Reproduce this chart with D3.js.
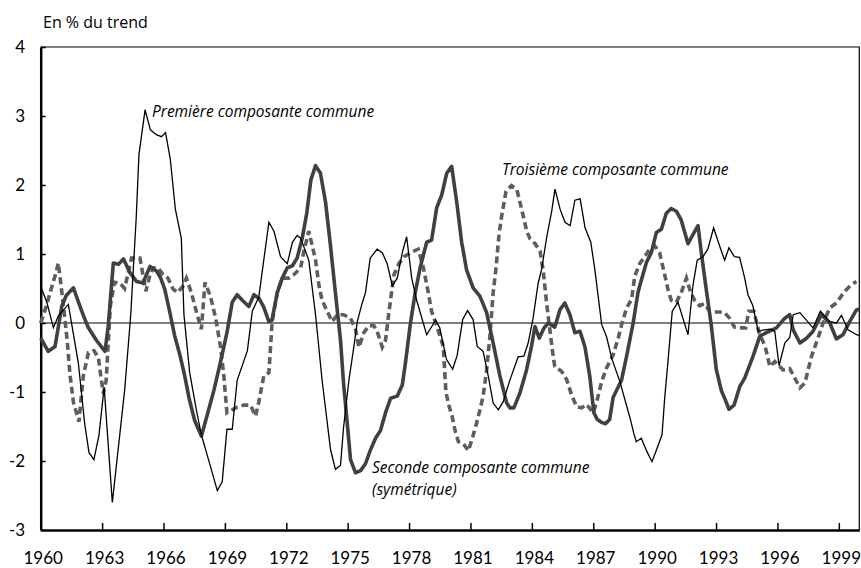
<!DOCTYPE html>
<html><head><meta charset="utf-8">
<script src="https://cdn.jsdelivr.net/npm/d3@7"></script>
<style>body{margin:0;background:#fff}svg{display:block}text{fill:#000}</style>
</head><body><svg id="c" width="861" height="568"></svg>
<script>
// Première composante commune (thin black)
const premiereT = [1960.0,1960.3,1960.62,1960.86,1961.35,1961.84,1962.15,1962.36,1962.6,1962.85,1963.1,1963.5,1964.1,1964.4,1964.67,1964.8,1965.1,1965.36,1965.65,1965.9,1966.1,1966.33,1966.58,1966.87,1967.0,1967.28,1967.6,1967.85,1968.2,1968.63,1968.87,1969.1,1969.36,1969.6,1970.1,1970.34,1970.66,1970.9,1971.15,1971.4,1971.72,1972.05,1972.3,1972.53,1972.7,1973.1,1973.43,1973.75,1974.16,1974.4,1974.65,1974.8,1975.06,1975.3,1975.47,1975.7,1975.87,1976.1,1976.44,1976.69,1976.93,1977.18,1977.42,1977.67,1977.88,1978.13,1978.37,1978.86,1979.3,1979.5,1979.83,1980.13,1980.35,1980.62,1980.86,1981.13,1981.33,1981.62,1981.87,1982.11,1982.36,1982.6,1982.9,1983.33,1983.61,1983.82,1984.06,1984.31,1984.47,1984.73,1984.97,1985.13,1985.38,1985.62,1985.87,1986.1,1986.36,1986.6,1986.88,1987.08,1987.41,1987.65,1987.9,1988.3,1988.8,1988.98,1989.1,1989.35,1989.6,1989.87,1990.1,1990.36,1990.49,1990.65,1990.86,1991.14,1991.38,1991.63,1991.87,1992.08,1992.36,1992.6,1992.88,1993.17,1993.42,1993.63,1993.9,1994.15,1994.4,1994.56,1994.8,1995.06,1995.35,1995.63,1995.87,1996.08,1996.36,1996.6,1996.77,1997.1,1997.74,1998.1,1998.56,1998.88,1999.13,1999.45,1999.86,2000.0];
const premiereV = [0.53,0.3,-0.07,0.1,0.27,-0.58,-1.46,-1.88,-1.98,-1.62,-0.93,-2.6,-0.98,0.12,1.54,2.44,3.09,2.8,2.73,2.7,2.76,2.38,1.65,1.23,0.12,-0.72,-1.25,-1.62,-1.98,-2.43,-2.3,-1.54,-1.54,-0.83,-0.4,0.17,0.38,0.91,1.46,1.33,0.96,0.86,1.17,1.27,1.23,0.91,0.12,-0.83,-1.83,-2.12,-2.06,-1.51,-0.83,-0.35,0.02,0.28,0.44,0.94,1.07,1.02,0.86,0.54,0.65,1.02,1.25,0.65,0.33,-0.17,0.04,-0.07,-0.53,-0.67,-0.47,0.05,0.18,0.05,-0.34,-0.41,-0.77,-1.16,-1.26,-1.14,-0.85,-0.49,-0.48,-0.29,0.07,0.58,0.77,1.25,1.62,1.94,1.65,1.46,1.41,1.78,1.8,1.38,1.17,0.77,-0.02,-0.2,-0.51,-0.85,-1.38,-1.6,-1.72,-1.67,-1.85,-2.01,-1.83,-1.62,-1.09,-0.56,0.17,0.3,0.07,-0.17,0.54,0.91,0.96,1.07,1.38,1.12,0.91,1.09,0.96,0.95,0.65,0.41,0.25,-0.12,-0.1,-0.09,-0.12,-0.62,-0.29,-0.21,0.12,0.15,-0.07,0.17,0.02,0.0,0.11,-0.1,-0.17,-0.18];

// Seconde composante commune (symétrique) (thick dark)
const secondeT = [1960.0,1960.37,1960.7,1961.03,1961.25,1961.6,1961.85,1962.07,1962.33,1962.72,1963.14,1963.3,1963.42,1963.55,1963.8,1964.04,1964.36,1964.69,1965.0,1965.34,1965.67,1965.85,1966.06,1966.3,1966.55,1966.8,1967.04,1967.25,1967.52,1967.85,1968.14,1968.46,1968.79,1969.1,1969.36,1969.6,1969.85,1970.17,1970.42,1970.66,1970.9,1971.15,1971.3,1971.56,1971.8,1972.05,1972.3,1972.53,1972.78,1973.0,1973.2,1973.43,1973.67,1973.92,1974.16,1974.4,1974.65,1974.8,1974.98,1975.14,1975.38,1975.63,1975.87,1976.1,1976.36,1976.6,1976.85,1977.1,1977.42,1977.67,1977.83,1978.05,1978.3,1978.54,1978.86,1979.1,1979.35,1979.6,1979.84,1980.08,1980.33,1980.57,1980.81,1981.13,1981.46,1981.79,1982.11,1982.44,1982.77,1982.93,1983.12,1983.41,1983.74,1983.98,1984.15,1984.36,1984.6,1984.8,1985.12,1985.37,1985.61,1985.86,1986.1,1986.35,1986.59,1986.83,1987.03,1987.2,1987.4,1987.6,1987.8,1987.97,1988.38,1988.63,1988.95,1989.19,1989.36,1989.6,1989.84,1990.08,1990.33,1990.57,1990.81,1991.06,1991.3,1991.63,1991.87,1992.12,1992.28,1992.52,1992.77,1993.01,1993.26,1993.42,1993.63,1993.88,1994.16,1994.4,1994.81,1995.14,1995.46,1995.95,1996.36,1996.6,1996.77,1997.1,1997.42,1997.74,1998.15,1998.56,1998.88,1999.2,1999.53,1999.86,2000.0];
const secondeV = [-0.22,-0.41,-0.34,0.24,0.4,0.51,0.3,0.12,-0.07,-0.25,-0.41,-0.05,0.4,0.87,0.85,0.93,0.73,0.6,0.58,0.82,0.75,0.66,0.49,0.17,-0.19,-0.46,-0.77,-1.09,-1.41,-1.64,-1.33,-0.98,-0.56,-0.14,0.3,0.41,0.33,0.24,0.41,0.36,0.23,0.02,0.04,0.44,0.65,0.8,0.83,0.94,1.23,1.59,2.07,2.28,2.17,1.75,1.12,0.44,-0.25,-0.88,-1.46,-1.98,-2.17,-2.14,-2.04,-1.85,-1.67,-1.56,-1.3,-1.09,-1.06,-0.9,-0.56,-0.04,0.44,0.8,1.17,1.2,1.67,1.86,2.17,2.27,1.75,1.17,0.77,0.51,0.39,0.15,-0.29,-0.77,-1.16,-1.23,-1.23,-1.02,-0.68,-0.34,-0.05,-0.22,-0.07,0.0,-0.06,0.19,0.29,0.12,-0.14,-0.12,-0.34,-0.77,-1.3,-1.4,-1.44,-1.46,-1.4,-1.08,-0.83,-0.48,0.0,0.45,0.63,0.88,1.02,1.31,1.36,1.59,1.66,1.62,1.49,1.15,1.28,1.41,1.02,0.49,-0.04,-0.67,-0.98,-1.09,-1.25,-1.19,-0.92,-0.8,-0.48,-0.19,-0.14,-0.07,0.07,0.12,-0.1,-0.29,-0.22,-0.12,0.12,0.0,-0.23,-0.17,0.02,0.19,0.2];

// Troisième composante commune (dashed grey)
const troisiemeT = [1960.0,1960.28,1960.5,1960.75,1960.86,1961.0,1961.13,1961.3,1961.43,1961.6,1961.87,1962.08,1962.33,1962.6,1962.82,1962.9,1963.06,1963.2,1963.4,1963.6,1963.87,1964.1,1964.44,1964.85,1965.14,1965.34,1965.5,1965.73,1965.98,1966.22,1966.47,1966.7,1966.96,1967.12,1967.36,1967.6,1967.85,1968.03,1968.3,1968.55,1968.79,1968.95,1969.1,1969.28,1969.6,1969.93,1970.25,1970.5,1970.66,1970.9,1971.15,1971.31,1971.56,1971.8,1972.13,1972.37,1972.7,1972.86,1973.1,1973.27,1973.43,1973.6,1973.75,1974.0,1974.24,1974.49,1974.8,1975.14,1975.38,1975.55,1975.79,1976.04,1976.28,1976.44,1976.69,1976.85,1977.0,1977.26,1977.5,1977.75,1978.07,1978.45,1978.7,1978.94,1979.1,1979.35,1979.67,1979.8,1979.95,1980.1,1980.25,1980.41,1980.65,1980.9,1981.11,1981.3,1981.47,1981.62,1981.79,1981.95,1982.11,1982.25,1982.4,1982.55,1982.74,1983.0,1983.26,1983.5,1983.75,1983.91,1984.16,1984.4,1984.55,1984.72,1984.88,1985.04,1985.12,1985.45,1985.7,1985.94,1986.18,1986.43,1986.67,1987.0,1987.17,1987.41,1987.65,1987.97,1988.22,1988.38,1988.63,1988.87,1989.03,1989.27,1989.51,1989.76,1990.0,1990.24,1990.49,1990.65,1990.81,1991.06,1991.3,1991.55,1991.71,1991.95,1992.2,1992.44,1992.69,1992.93,1993.17,1993.42,1993.66,1993.9,1994.15,1994.45,1994.6,1994.85,1995.1,1995.4,1995.63,1995.87,1996.28,1996.6,1997.1,1997.34,1997.67,1998.0,1998.23,1998.56,1998.88,1999.29,1999.62,1999.86,2000.0];
const troisiemeV = [0.0,0.25,0.48,0.73,0.87,0.53,0.2,-0.27,-0.75,-1.15,-1.43,-0.77,-0.43,-0.4,-0.5,-0.69,-1.02,-0.83,0.24,0.59,0.58,0.5,0.94,0.94,0.46,0.7,0.8,0.8,0.7,0.65,0.49,0.44,0.54,0.65,0.44,0.17,-0.09,0.59,0.38,0.07,-0.35,-0.77,-1.3,-1.27,-1.22,-1.19,-1.19,-1.35,-1.14,-0.77,-0.72,0.02,0.44,0.65,0.65,0.7,0.8,1.04,1.33,1.12,0.91,0.54,0.33,0.17,0.02,0.12,0.12,0.07,-0.09,-0.35,-0.14,-0.04,-0.04,-0.12,-0.35,-0.25,0.12,0.7,0.86,0.96,1.02,1.07,0.8,0.44,0.17,-0.04,-0.34,-1.0,-1.2,-1.35,-1.56,-1.72,-1.75,-1.85,-1.65,-1.45,-1.25,-1.06,-0.68,-0.19,0.44,0.8,1.3,1.6,1.91,1.99,1.94,1.65,1.33,1.22,1.15,1.04,0.77,0.29,-0.1,-0.48,-0.63,-0.7,-0.82,-1.04,-1.21,-1.23,-1.18,-1.3,-1.14,-0.85,-0.65,-0.46,-0.22,-0.03,0.22,0.34,0.68,0.86,0.96,1.07,1.12,1.02,0.7,0.49,0.33,0.3,0.44,0.65,0.49,0.33,0.25,0.28,0.17,0.16,0.16,0.15,0.07,-0.06,-0.07,-0.07,0.17,0.17,-0.14,-0.34,-0.63,-0.56,-0.68,-0.66,-0.94,-0.87,-0.48,-0.2,0.0,0.22,0.29,0.46,0.56,0.6];

const yTicks = [-3,-2,-1,0,1,2,3,4];
const xTicks = [1960,1963,1966,1969,1972,1975,1978,1981,1984,1987,1990,1993,1996,1999];
const yTitle = "En % du trend";
const labelPremiere = "Première composante commune";
const labelSeconde = ["Seconde composante commune","(symétrique)"];
const labelTroisieme = "Troisième composante commune";

const svg = d3.select("#c");
const x = d3.scaleLinear().domain([1960,2000]).range([40.7,859.3]);
const y = d3.scaleLinear().domain([-3,4]).range([530,47]);

// top and right frame (thin)
svg.append("path").attr("d",`M${x(1960)},${y(4)}H${x(2000)}V${y(-3)}`).attr("fill","none").attr("stroke","#000").attr("stroke-width",1.2);

// zero line
svg.append("line").attr("x1",x(1960)).attr("x2",x(2000)).attr("y1",y(0)).attr("y2",y(0)).attr("stroke","#000").attr("stroke-width",1);

const tickFont = "Lato, 'Open Sans', sans-serif";
const labFont = "'Open Sans', Lato, sans-serif";
const fmt = d => String(d);

// axes
const xAxis = d3.axisBottom(x).tickValues(xTicks).tickFormat(fmt).tickSizeInner(-7).tickSizeOuter(0).tickPadding(21.5);
const gx = svg.append("g").attr("transform",`translate(0,${y(-3)})`).call(xAxis);
gx.select(".domain").attr("stroke-width",2.5);
gx.selectAll(".tick line").attr("stroke-width",1.5);
gx.selectAll("text").attr("font-size",17).attr("font-family",tickFont).attr("dx",2);

const yAxis = d3.axisLeft(y).tickValues(yTicks).tickFormat(fmt).tickSizeInner(-5).tickSizeOuter(0).tickPadding(15.5);
const gy = svg.append("g").attr("transform",`translate(${x(1960)},0)`).call(yAxis);
gy.select(".domain").attr("stroke-width",2.5);
gy.selectAll(".tick line").attr("stroke-width",1.5);
gy.selectAll("text").attr("font-size",17).attr("font-family",tickFont);

svg.append("text").attr("x",43).attr("y",28.3).attr("font-size",16).attr("font-family",labFont).text(yTitle);

const line = d3.line().x(d=>x(d[0])).y(d=>y(d[1]));
const zip = (a,b)=>a.map((t,i)=>[t,b[i]]);

svg.append("path").datum(zip(troisiemeT,troisiemeV)).attr("d",line).attr("fill","none")
  .attr("stroke","#5e5e5e").attr("stroke-width",3.6).attr("stroke-dasharray","7,4");
svg.append("path").datum(zip(secondeT,secondeV)).attr("d",line).attr("fill","none")
  .attr("stroke","#404040").attr("stroke-width",3.6).attr("stroke-linejoin","round");
svg.append("path").datum(zip(premiereT,premiereV)).attr("d",line).attr("fill","none")
  .attr("stroke","#000").attr("stroke-width",1.3);

const lab = (t,xx,yy)=>svg.append("text").attr("x",xx).attr("y",yy).attr("font-size",15.5).attr("font-style","italic").attr("font-family",labFont).text(t);
lab(labelPremiere,152,116.5);
lab(labelTroisieme,502,175);
labelSeconde.forEach((t,i)=>lab(t,372,473+i*21.5));
</script></body></html>
